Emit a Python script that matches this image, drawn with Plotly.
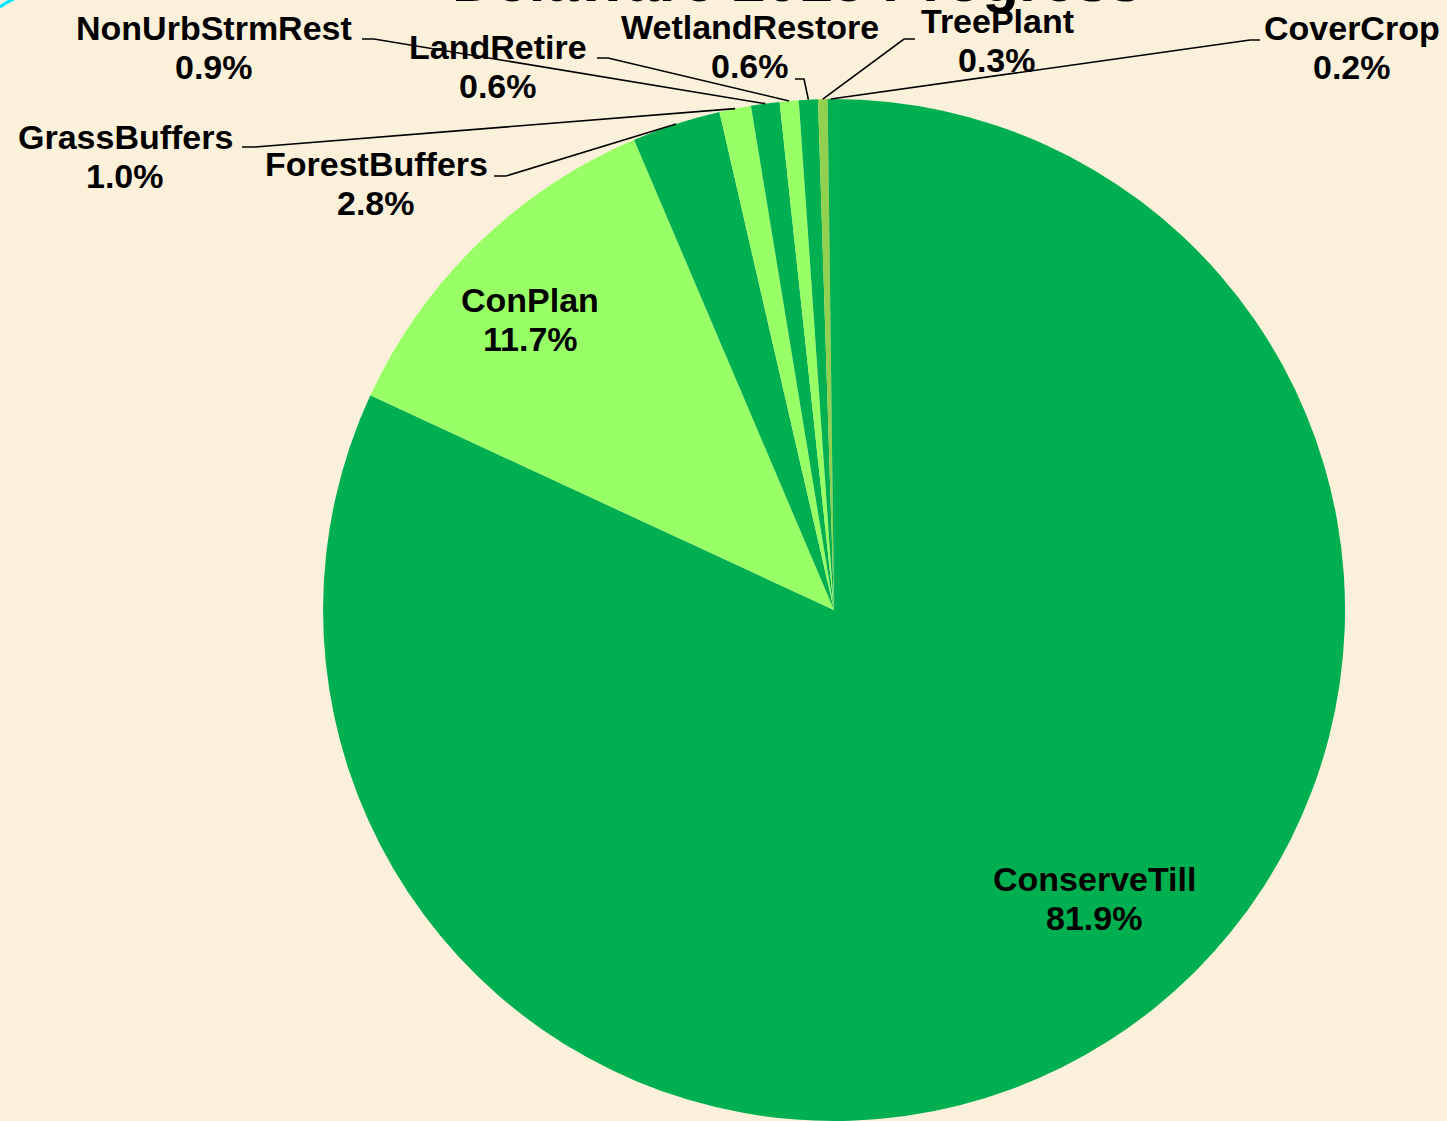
import math
import plotly.graph_objects as go

# ---------------- data ----------------
categories = ["ConserveTill", "ConPlan", "ForestBuffers", "GrassBuffers",
              "NonUrbStrmRest", "LandRetire", "WetlandRestore", "TreePlant", "CoverCrop"]
shares = [81.9, 11.7, 2.8, 1.0, 0.9, 0.6, 0.6, 0.3, 0.2]
title_text = "Delaware 2015 Progress"

# ---------------- styles / layout ----------------
slice_colors = ["#00B050", "#99FF66", "#00B050", "#99FF66", "#00B050",
                "#99FF66", "#00B050", "#92D050", "#00B050"]
W, H = 1447, 1121
BG = "#FBF0DA"
FONT = "Liberation Sans, Arial, sans-serif"
FS = 34
LINE_GAP = 39
dom_x = [0.2164, 0.9364]
dom_y = [0.0, 1022 / 1121]

# label placement (pixel centre of first line) per category
label_pos = {
    "ConserveTill": (1094, 879),
    "ConPlan": (530, 300),
    "ForestBuffers": (376, 164),
    "GrassBuffers": (125, 137),
    "NonUrbStrmRest": (214, 28),
    "LandRetire": (498, 47),
    "WetlandRestore": (750, 27),
    "TreePlant": (997, 21),
    "CoverCrop": (1352, 28),
}
# leader line: start point near label and elbow point (pixels)
leader = {
    "ForestBuffers": ((494, 176), (506, 176)),
    "GrassBuffers": ((242, 147), (255, 147)),
    "NonUrbStrmRest": ((362, 39), (374, 39)),
    "LandRetire": ((597, 58), (608, 58)),
    "WetlandRestore": ((795, 79), (804, 79)),
    "TreePlant": ((915, 39), (904, 39)),
    "CoverCrop": ((1260, 40), (1250, 40)),
}


def px(x):
    return x / W


def py(y):
    return 1 - y / H


fig = go.Figure(go.Pie(
    labels=categories, values=shares, sort=False, direction="clockwise",
    rotation=0, marker=dict(colors=slice_colors, line=dict(width=0)),
    textinfo="none", hoverinfo="label+percent", showlegend=False,
    domain=dict(x=dom_x, y=dom_y),
))

# pie geometry in pixels (from the domain)
cx = W * (dom_x[0] + dom_x[1]) / 2
cy = H * (1 - (dom_y[0] + dom_y[1]) / 2)
r = min(W * (dom_x[1] - dom_x[0]), H * (dom_y[1] - dom_y[0])) / 2
total = sum(shares)

annotations = []
shapes = []
cum = 0.0
for name, v in zip(categories, shares):
    mid = 2 * math.pi * (cum + v / 2) / total
    cum += v
    lx, ly = label_pos[name]
    for i, t in enumerate([name, f"{v:.1f}%"]):
        annotations.append(dict(
            x=px(lx), y=py(ly + i * LINE_GAP), xref="paper", yref="paper",
            text=f"<b>{t}</b>", showarrow=False, xanchor="center", yanchor="middle",
            font=dict(family=FONT, size=FS, color="black"),
        ))
    if name in leader:
        (sx, sy), (ex, ey) = leader[name]
        tx = cx + r * math.sin(mid)
        ty = cy - r * math.cos(mid)
        path = (f"M {px(sx)} {py(sy)} L {px(ex)} {py(ey)} L {px(tx)} {py(ty)}")
        shapes.append(dict(type="path", path=path, xref="paper", yref="paper",
                           line=dict(color="black", width=1.6)))

# title, cut off at the top edge as in the reference
annotations.append(dict(
    x=px(797), y=py(16), xref="paper", yref="paper", text=f"<b>{title_text}</b>",
    showarrow=False, xanchor="center", yanchor="bottom",
    font=dict(family=FONT, size=60, color="black"),
))

# small cyan decoration at top-left corner
shapes.append(dict(type="path", path=f"M {px(0)} {py(7)} Q {px(6)} {py(2)} {px(14)} {py(-1)}",
                   xref="paper", yref="paper", line=dict(color="#00E5FF", width=3)))

fig.update_layout(
    width=W, height=H, margin=dict(l=0, r=0, t=0, b=0),
    paper_bgcolor=BG, plot_bgcolor=BG,
    annotations=annotations, shapes=shapes,
)

fig.write_html("out.html", config={"displayModeBar": False},
               post_script="document.body.style.margin='0';document.body.style.overflow='hidden';document.body.style.background='%s';" % BG)
